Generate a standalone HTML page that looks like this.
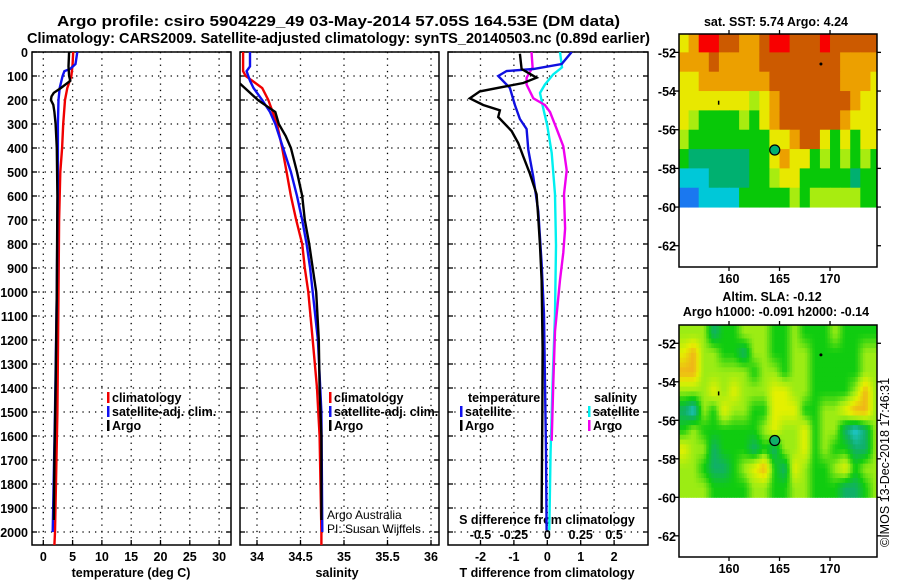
<!DOCTYPE html>
<html><head><meta charset="utf-8"><style>
html,body{margin:0;padding:0;background:#fff;width:900px;height:580px;overflow:hidden}
svg{display:block;font-family:"Liberation Sans",sans-serif;font-weight:bold}
</style></head><body>
<svg id="c" width="900" height="580" xmlns="http://www.w3.org/2000/svg">
<text x="57" y="26" textLength="563" lengthAdjust="spacingAndGlyphs" font-size="15">Argo profile: csiro 5904229_49 03-May-2014 57.05S 164.53E (DM data)</text>
<text x="27" y="43" textLength="623" lengthAdjust="spacingAndGlyphs" font-size="15">Climatology: CARS2009. Satellite-adjusted climatology: synTS_20140503.nc (0.89d earlier)</text>
<text x="776" y="26" text-anchor="middle" font-size="12.5">sat. SST: 5.74 Argo: 4.24</text>
<text x="772" y="301" text-anchor="middle" font-size="12.5">Altim. SLA: -0.12</text>
<text x="776" y="316" text-anchor="middle" font-size="12.5">Argo h1000: -0.091 h2000: -0.14</text>
<text transform="translate(889,547) rotate(-90)" font-size="12.5" font-weight="normal">©IMOS 13-Dec-2018 17:46:31</text>
</svg>
<script>
// ---- data ----
const depthTicks=[0,100,200,300,400,500,600,700,800,900,1000,1100,1200,1300,1400,1500,1600,1700,1800,1900,2000];
const tempTicks=[0,5,10,15,20,25,30];
const salTicks=[34,34.5,35,35.5,36];
const salTickLabels=["34","34.5","35","35.5","36"];
const tdTicks=[-2,-1,0,1,2];
const sdTicks=[-0.5,-0.25,0,0.25,0.5];
const sdTickLabels=["-0.5","-0.25","0","0.25","0.5"];
const tArgoDepth=[0,60,100,120,150,170,185,200,220,250,300,400,600,1000,1400,1700,1950];
const tArgoVal=[4.4,4.3,4.4,4.6,3.0,1.8,1.4,1.3,1.7,1.9,2.1,2.3,2.4,2.3,2.1,1.9,1.8];
const tClimDepth=[0,50,100,150,200,300,400,500,700,1000,1500,2000,2054];
const tClimVal=[5.1,5.0,4.8,4.1,3.7,3.4,3.2,2.9,2.7,2.6,2.4,2.0,1.9];
const tSatDepth=[0,50,70,80,100,150,200,300,500,1000,1500,2000];
const tSatVal=[5.8,5.5,4.6,3.6,3.3,2.8,2.6,2.5,2.5,2.3,2.0,1.6];
const sArgoDepth=[0,130,160,200,230,250,300,350,400,500,600,700,800,900,1000,1200,1400,1600,1950];
const sArgoVal=[33.6,33.80,33.89,34.01,34.13,34.21,34.25,34.33,34.39,34.46,34.52,34.55,34.60,34.64,34.68,34.71,34.72,34.74,34.74];
const sClimDepth=[0,80,100,150,200,250,300,400,500,600,700,800,900,1000,1200,1400,1600,2000,2054];
const sClimVal=[33.84,33.84,33.87,34.06,34.13,34.18,34.23,34.29,34.34,34.39,34.45,34.52,34.55,34.59,34.64,34.69,34.72,34.74,34.74];
const sSatDepth=[0,60,80,120,150,200,250,300,400,500,600,700,800,900,1000,1200,1500,2000];
const sSatVal=[33.92,33.92,33.88,33.92,33.96,34.06,34.15,34.21,34.30,34.39,34.46,34.52,34.57,34.61,34.64,34.70,34.74,34.75];
const dtArgoDepth=[7,71,107,129,164,193,221,243,271,329,379,436,507,593,693,807,950,1236,1521,1921];
const dtArgoVal=[-0.82,-0.77,-0.32,-0.72,-2.02,-2.32,-1.92,-1.42,-1.47,-1.07,-0.87,-0.72,-0.52,-0.32,-0.27,-0.22,-0.17,-0.14,-0.15,-0.17];
const dtSatDepth=[0,50,71,79,100,150,221,279,321,407,521,664,879,1093,1379,1664,1993];
const dtSatVal=[0.73,0.43,-0.42,-1.22,-1.47,-1.12,-0.97,-0.82,-0.62,-0.57,-0.42,-0.27,-0.17,-0.10,-0.07,-0.04,-0.02];
const dsSatDepth=[0,64,93,136,171,236,307,421,593,807,1093,1379,1664,1993];
const dsSatVal=[0.095,0.11,0.045,-0.018,-0.055,-0.03,0,0.033,0.058,0.065,0.058,0.04,0.025,0.015];
const dsArgoDepth=[0,64,107,136,193,221,250,321,393,493,593,736,836,950,1164,1379,1620];
const dsArgoVal=[-0.118,-0.11,-0.155,-0.155,-0.105,-0.018,0.02,0.07,0.12,0.145,0.125,0.133,0.12,0.095,0.058,0.045,0.033];
const latTicks=[-52,-54,-56,-58,-60,-62];
const lonTicks=[160,165,170];
const sstRows=["56887766788777877777","66676666777777776666","55666666677777776665","55555554567777777655","54333343567777776555","43333333355677535355","32222223356553434343","11122223345533333233","00111133333434444433"];
const slaRows=["44423344433433343333","56443324433443333344","66444443443443333344","44454544455443333464","21435443355533445664","34333333454453442124","54423332324453433224","44322345632543345344","44433334433443332234"];
const palette=["#1a78f0","#00c8d8","#00b070","#08c808","#a8ec10","#e8e800","#eca000","#cc5a00","#f80000"];
const slaPalette=["#2a80f0","#20c8d8","#10b068","#10cc10","#9cec14","#e4f000","#f0b418","#e07800","#e05000"];
const floatLon=164.53, floatLat=-57.05;
// ---- helpers ----
const NS="http://www.w3.org/2000/svg";
const svg=document.getElementById('c');
function el(tag,attrs,parent){const e=document.createElementNS(NS,tag);for(const k in attrs)e.setAttribute(k,attrs[k]);(parent||svg).appendChild(e);return e;}
const TOP=52,BOT=545;
function yD(d){return TOP+d*0.24;}
const P1={x0:32,x1:231},P2={x0:240,x1:439},P3={x0:448,x1:648};
function xT(t){return 43.3+5.86*t;}
function xS(s){return 257+87*(s-34);}
function xDT(t){return 547.3+33.4*t;}
function xDS(s){return 547.3+133.6*s;}
function clip(id,p){const cp=el('clipPath',{id:id});el('rect',{x:p.x0,y:TOP,width:p.x1-p.x0,height:BOT-TOP},cp);}
clip('c1',P1);clip('c2',P2);clip('c3',P3);
function panelFrame(p,name,vgrid){
  const g=el('g',{});
  
  
  depthTicks.forEach(d=>{el('line',{x1:p.x0,x2:p.x1,y1:yD(d),y2:yD(d),stroke:'#000','stroke-width':1.3,'stroke-dasharray':'1.3 5'},g);
    el('line',{x1:p.x0,x2:p.x0+5,y1:yD(d),y2:yD(d),stroke:'#000','stroke-width':1.3},g);
    el('line',{x1:p.x1-5,x2:p.x1,y1:yD(d),y2:yD(d),stroke:'#000','stroke-width':1.3},g);});
  vgrid.forEach(x=>{el('line',{x1:x,x2:x,y1:TOP,y2:BOT,stroke:'#000','stroke-width':1.3,'stroke-dasharray':'1.3 5'},g);
    el('line',{x1:x,x2:x,y1:BOT-5,y2:BOT,stroke:'#000','stroke-width':1.3},g);});
  el('rect',{x:p.x0,y:TOP,width:p.x1-p.x0,height:BOT-TOP,fill:'none',stroke:'#000','stroke-width':1.5},g);
  return g;
}
function line(depths,vals,xf,color,clipId,name){
  const pts=depths.map((d,i)=>xf(vals[i]).toFixed(1)+','+yD(d).toFixed(1)).join(' ');
  const l=el('polyline',{points:pts,fill:'none',stroke:color,'stroke-width':2.4,'clip-path':'url(#'+clipId+')'});
  
  
}
function txt(x,y,s,size,anchor,name,weight){const t=el('text',{x:x,y:y,'font-size':size,'text-anchor':anchor||'start'});if(weight)t.setAttribute('font-weight',weight);t.textContent=s;
  
  
  return t;}
panelFrame(P1,'temperature-panel',tempTicks.map(xT));
panelFrame(P2,'salinity-panel',salTicks.map(xS));
panelFrame(P3,'difference-panel',tdTicks.map(xDT));
depthTicks.forEach(d=>txt(28,yD(d)+5,String(d),12.5,'end','depth-tick-label'));
tempTicks.forEach(t=>txt(xT(t),561,String(t),12.5,'middle','temperature-tick-label'));
salTickLabels.forEach((s,i)=>txt(xS(salTicks[i]),561,s,12.5,'middle','salinity-tick-label'));
tdTicks.forEach(t=>txt(xDT(t),561,String(t),12.5,'middle','t-diff-tick-label'));
sdTickLabels.forEach((s,i)=>txt(xDS(sdTicks[i]),539,s,12.5,'middle','s-diff-tick-label'));
txt(131,577,'temperature (deg C)',12.5,'middle','temperature-axis-title');
txt(337,577,'salinity',12.5,'middle','salinity-axis-title');
txt(547,577,'T difference from climatology',12.5,'middle','t-diff-axis-title');
txt(547,524,'S difference from climatology',12.5,'middle','s-diff-axis-title');
line(tClimDepth,tClimVal,xT,'#f00000','c1','temperature-climatology-line');
line(tSatDepth,tSatVal,xT,'#1010f0','c1','temperature-satellite-line');
line(tArgoDepth,tArgoVal,xT,'#000','c1','temperature-argo-line');
line(sClimDepth,sClimVal,xS,'#f00000','c2','salinity-climatology-line');
line(sSatDepth,sSatVal,xS,'#1010f0','c2','salinity-satellite-line');
line(sArgoDepth,sArgoVal,xS,'#000','c2','salinity-argo-line');
line(dsSatDepth,dsSatVal,xDS,'#00f0f0','c3','s-diff-satellite-line');
line(dsArgoDepth,dsArgoVal,xDS,'#f000f0','c3','s-diff-argo-line');
line(dtSatDepth,dtSatVal,xDT,'#1010e0','c3','t-diff-satellite-line');
line(dtArgoDepth,dtArgoVal,xDT,'#000','c3','t-diff-argo-line');
function legEntry(x,y,color,label,name){const g=el('g',{});
  
  
  el('rect',{x:x,y:y-10,width:2.5,height:11,fill:color},g);
  const t=el('text',{x:x+5,y:y,'font-size':12.5},g);t.textContent=label;}
legEntry(107,402,'#f00000','climatology','legend-climatology');
legEntry(107,416,'#1010f0','satellite-adj. clim.','legend-satellite-adj');
legEntry(107,430,'#000','Argo','legend-argo');
legEntry(329,402,'#f00000','climatology','legend-climatology-2');
legEntry(329,416,'#1010f0','satellite-adj. clim.','legend-satellite-adj-2');
legEntry(329,430,'#000','Argo','legend-argo-2');
txt(468,402,'temperature',12.5,'start','legend-temperature-heading');
legEntry(460,416,'#1010f0','satellite','legend-t-satellite');
legEntry(460,430,'#000','Argo','legend-t-argo');
txt(594,402,'salinity',12.5,'start','legend-salinity-heading');
legEntry(588,416,'#00f0f0','satellite','legend-s-satellite');
legEntry(588,430,'#f000f0','Argo','legend-s-argo');
txt(327,519,'Argo Australia',12,'start','credit-argo-australia','normal');
txt(327,533,'PI: Susan Wijffels',12,'start','credit-pi','normal');
function hex2rgb(h){return [parseInt(h.substr(1,2),16),parseInt(h.substr(3,2),16),parseInt(h.substr(5,2),16)];}
function colorAt(pal,v){v=Math.max(0,Math.min(pal.length-1,v));const i=Math.min(pal.length-2,Math.floor(v)),f=v-i;
  const a=hex2rgb(pal[i]),b=hex2rgb(pal[i+1]);return 'rgb('+a.map((c,k)=>Math.round(c+(b[k]-c)*f)).join(',')+')';}
function drawMap(y0,y1,rows,pal,name,smooth){
  const M={x0:679,x1:877,y0:y0,y1:y1,lon0:155.05,lon1:174.65,lat0:-51.05,lat1:-63.1};
  const xL=lon=>M.x0+(lon-M.lon0)/(M.lon1-M.lon0)*(M.x1-M.x0);
  const yL=lat=>M.y0+(lat-M.lat0)/(M.lat1-M.lat0)*(M.y1-M.y0);
  const g=el('g',{});
  
  
  const nr=rows.length,nc=rows[0].length;
  const val=(i,j)=>+rows[Math.max(0,Math.min(nr-1,i))][Math.max(0,Math.min(nc-1,j))];
  const sub=smooth?4:1;
  for(let i=0;i<nr;i++)for(let j=0;j<nc;j++)for(let a=0;a<sub;a++)for(let b=0;b<sub;b++){
    const lonA=155+j+b/sub,latA=-51-i-a/sub;
    const xa=Math.max(M.x0,xL(lonA)),xb=Math.min(M.x1,xL(lonA+1/sub));
    if(xb<=xa)continue;
    const ya=Math.max(M.y0,yL(latA)),yb=yL(latA-1/sub);
    let fill;
    if(smooth){const fi=i+(a+0.5)/sub-0.5,fj=j+(b+0.5)/sub-0.5;const i0=Math.floor(fi),j0=Math.floor(fj),di=fi-i0,dj=fj-j0;
      const v=val(i0,j0)*(1-di)*(1-dj)+val(i0,j0+1)*(1-di)*dj+val(i0+1,j0)*di*(1-dj)+val(i0+1,j0+1)*di*dj;fill=colorAt(pal,v);}
    else fill=pal[val(i,j)];
    const c=el('rect',{x:xa,y:ya,width:xb-xa+0.5,height:yb-ya+0.5,fill:fill},g);
    
    
  }
  el('rect',{x:M.x0,y:M.y0,width:M.x1-M.x0,height:M.y1-M.y0,fill:'none',stroke:'#000','stroke-width':1.5},g);
  latTicks.forEach(l=>{const y=yL(l);el('line',{x1:M.x0-5,x2:M.x0,y1:y,y2:y,stroke:'#000','stroke-width':1.3},g);
    el('line',{x1:M.x1,x2:M.x1+4,y1:y,y2:y,stroke:'#000','stroke-width':1.3},g);
    txt(M.x0-3,y+5,String(l),12.5,'end','map-lat-label');});
  lonTicks.forEach(l=>{const x=xL(l);el('line',{x1:x,x2:x,y1:M.y0-4,y2:M.y0,stroke:'#000','stroke-width':1.3},g);
    el('line',{x1:x,x2:x,y1:M.y1,y2:M.y1+4,stroke:'#000','stroke-width':1.3},g);
    txt(x,M.y1+16,String(l),12.5,'middle','map-lon-label');});
  const f=el('circle',{cx:xL(floatLon),cy:yL(floatLat),r:5,fill:pal[2],stroke:'#000','stroke-width':1.2},g);
  
  
  el('circle',{cx:xL(169.1),cy:yL(-52.6),r:1.5,fill:'#000'},g);
  el('rect',{x:xL(158.9),y:yL(-54.5),width:1.5,height:4,fill:'#000'},g);
}
drawMap(34,267,sstRows,palette,'sst-map',false);
drawMap(325,557,slaRows,slaPalette,'sla-map',true);
</script>
</body></html>
